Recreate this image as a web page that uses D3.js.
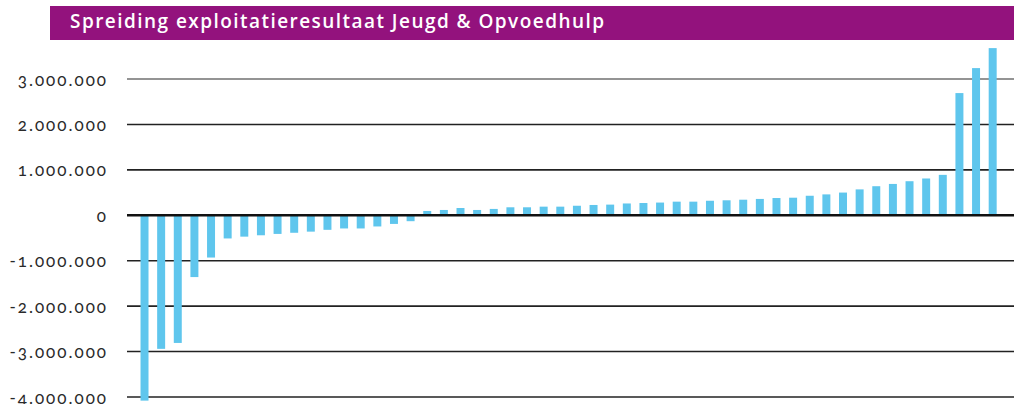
<!DOCTYPE html>
<html>
<head>
<meta charset="utf-8">
<script src="https://cdn.jsdelivr.net/npm/d3@7"></script>
<style>
  body { margin: 0; background: #fff; }
  svg { display: block; }
</style>
</head>
<body>
<div id="viz"></div>
<script>
const title = "Spreiding exploitatieresultaat Jeugd & Opvoedhulp";

// one value per organisation, sorted from lowest to highest result
const results = [
    -4080000, -2940000, -2810000, -1360000, -930000, -510000, -470000, -440000,
    -410000, -385000, -360000, -320000, -290000, -290000, -246000, -190000,
    -130000, 95000, 117000, 160000, 117000, 140000, 176000, 176000,
    190000, 190000, 210000, 227000, 235000, 260000, 270000, 280000,
    300000, 300000, 320000, 330000, 343000, 360000, 380000, 387000,
    430000, 460000, 500000, 570000, 640000, 690000, 750000, 810000,
    890000, 2690000, 3240000, 3680000
];

const yTicks = [-4000000, -3000000, -2000000, -1000000, 0, 1000000, 2000000, 3000000];
const yTickLabels = ["-4.000.000", "-3.000.000", "-2.000.000", "-1.000.000", "0", "1.000.000", "2.000.000", "3.000.000"];

const width = 1014;
const height = 404;

const svg = d3.select("#viz").append("svg")
    .attr("width", width)
    .attr("height", height);

// title bar
svg.append("rect")
    .attr("x", 50).attr("y", 6)
    .attr("width", width - 50).attr("height", 34)
    .attr("fill", "#93127d");

svg.append("text")
    .attr("x", 70).attr("y", 28)
    .attr("fill", "#fff")
    .style("font-family", "'Open Sans', sans-serif")
    .style("font-weight", 600)
    .style("font-size", "19px")
    .style("letter-spacing", "1.45px")
    .text(title);

const x = d3.scaleBand()
    .domain(d3.range(results.length))
    .range([136.2, 1001])
    .paddingInner(0.52)
    .paddingOuter(0.26);

const y = d3.scaleLinear()
    .domain([-4000000, 3000000])
    .range([397, 79]);

// grid lines
svg.append("g")
    .selectAll("line")
    .data(yTicks.filter(d => d !== 0))
    .enter()
    .append("line")
    .attr("x1", 127).attr("x2", width)
    .attr("y1", d => y(d)).attr("y2", d => y(d))
    .attr("stroke", d => d === 3000000 ? "#707070" : "#222")
    .attr("stroke-width", 1.6);

// tick labels
svg.append("g")
    .selectAll("text")
    .data(yTicks)
    .enter()
    .append("text")
    .attr("x", 108)
    .attr("y", d => y(d))
    .attr("text-anchor", "end")
    .attr("dominant-baseline", "central")
    .style("font-family", "Lato, sans-serif")
    .style("font-feature-settings", "'onum' 1")
    .style("font-size", "17px")
    .style("letter-spacing", "2px")
    .attr("fill", "#2a2a2a")
    .text((d, i) => yTickLabels[i]);

// bars
svg.append("g")
    .selectAll("rect")
    .data(results)
    .enter()
    .append("rect")
    .attr("x", (d, i) => x(i))
    .attr("width", x.bandwidth())
    .attr("y", d => Math.min(y(d), y(0)))
    .attr("height", d => Math.abs(y(d) - y(0)))
    .attr("fill", "#5fc6ed");

// zero line on top of the bars
svg.append("line")
    .attr("x1", 127).attr("x2", width)
    .attr("y1", y(0)).attr("y2", y(0))
    .attr("stroke", "#111")
    .attr("stroke-width", 2.4);
</script>
</body>
</html>
